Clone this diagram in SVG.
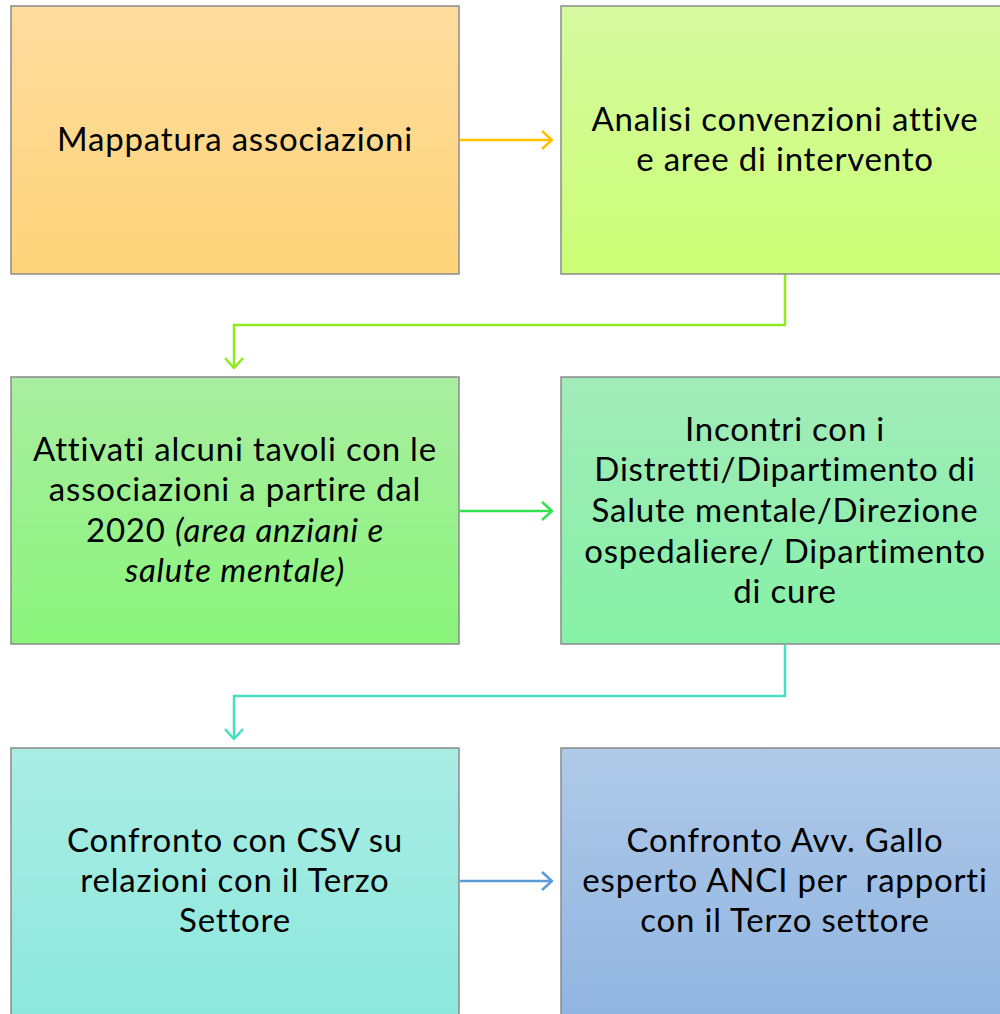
<svg xmlns="http://www.w3.org/2000/svg" width="1000" height="1014" viewBox="0 0 1000 1014">
<style>
.box{stroke:#8a8a8a;stroke-width:1.5}
.t{font-family:Lato,"Open Sans","Liberation Sans",sans-serif;font-size:33px;letter-spacing:0.8px;font-variant-ligatures:none;fill:#000;text-anchor:middle}
.c{fill:none;stroke-width:2.5}
</style>
<defs>
<linearGradient id="g1" x1="0" y1="0" x2="0" y2="1"><stop offset="0" stop-color="#FEDC9E"/><stop offset="1" stop-color="#FED479"/></linearGradient>
<linearGradient id="g2" x1="0" y1="0" x2="0" y2="1"><stop offset="0" stop-color="#D6F9A0"/><stop offset="1" stop-color="#CBFE75"/></linearGradient>
<linearGradient id="g3" x1="0" y1="0" x2="0" y2="1"><stop offset="0" stop-color="#A9EDA1"/><stop offset="1" stop-color="#8AF57B"/></linearGradient>
<linearGradient id="g4" x1="0" y1="0" x2="0" y2="1"><stop offset="0" stop-color="#A2EBB9"/><stop offset="1" stop-color="#86F1A6"/></linearGradient>
<linearGradient id="g5" x1="0" y1="0" x2="0" y2="1"><stop offset="0" stop-color="#AAEDE5"/><stop offset="1" stop-color="#8BE7DB"/></linearGradient>
<linearGradient id="g6" x1="0" y1="0" x2="0" y2="1"><stop offset="0" stop-color="#AFC9E8"/><stop offset="1" stop-color="#8FB4E0"/></linearGradient>
<marker id="m1" viewBox="0 0 12 20" refX="11" refY="10" markerWidth="12" markerHeight="20" markerUnits="userSpaceOnUse" orient="auto"><path d="M1,1 L11,10 L1,19" fill="none" stroke="#FFC000" stroke-width="2.5"/></marker>
<marker id="m2" viewBox="0 0 12 20" refX="11" refY="10" markerWidth="12" markerHeight="20" markerUnits="userSpaceOnUse" orient="auto"><path d="M1,1 L11,10 L1,19" fill="none" stroke="#8DEB1E" stroke-width="2.5"/></marker>
<marker id="m3" viewBox="0 0 12 20" refX="11" refY="10" markerWidth="12" markerHeight="20" markerUnits="userSpaceOnUse" orient="auto"><path d="M1,1 L11,10 L1,19" fill="none" stroke="#2EE34E" stroke-width="2.5"/></marker>
<marker id="m4" viewBox="0 0 12 20" refX="11" refY="10" markerWidth="12" markerHeight="20" markerUnits="userSpaceOnUse" orient="auto"><path d="M1,1 L11,10 L1,19" fill="none" stroke="#48DEC2" stroke-width="2.5"/></marker>
<marker id="m5" viewBox="0 0 12 20" refX="11" refY="10" markerWidth="12" markerHeight="20" markerUnits="userSpaceOnUse" orient="auto"><path d="M1,1 L11,10 L1,19" fill="none" stroke="#5B9BD5" stroke-width="2.5"/></marker>
</defs>
<rect width="1000" height="1014" fill="#fff"/>
<g id="connectors">
<path class="c" stroke="#FFC000" d="M460,140 H552" marker-end="url(#m1)"/>
<path class="c" stroke="#8DEB1E" d="M785,274 V325 H234 V368" marker-end="url(#m2)"/>
<path class="c" stroke="#2EE34E" d="M460,511 H552" marker-end="url(#m3)"/>
<path class="c" stroke="#48DEC2" d="M785,645 V696 H234 V739" marker-end="url(#m4)"/>
<path class="c" stroke="#5B9BD5" d="M460,881 H552" marker-end="url(#m5)"/>
</g>
<g id="n1"><rect class="box" x="11" y="6" width="448" height="268" fill="url(#g1)"/>
<text class="t" x="235" y="151">Mappatura associazioni</text></g>
<g id="n2"><rect class="box" x="561" y="6" width="448" height="268" fill="url(#g2)"/>
<text class="t" x="785" y="131">Analisi convenzioni attive</text>
<text class="t" x="785" y="171">e aree di intervento</text></g>
<g id="n3"><rect class="box" x="11" y="377" width="448" height="267" fill="url(#g3)"/>
<text class="t" x="235" y="461">Attivati alcuni tavoli con le</text>
<text class="t" x="235" y="501">associazioni a partire dal</text>
<text class="t" x="235" y="542">2020 <tspan font-style="italic">(area anziani e</tspan></text>
<text class="t" x="235" y="582" font-style="italic">salute mentale)</text></g>
<g id="n4"><rect class="box" x="561" y="377" width="448" height="267" fill="url(#g4)"/>
<text class="t" x="785" y="441">Incontri con i</text>
<text class="t" x="785" y="481">Distretti/Dipartimento di</text>
<text class="t" x="785" y="522">Salute mentale/Direzione</text>
<text class="t" x="785" y="563">ospedaliere/ Dipartimento</text>
<text class="t" x="785" y="603">di cure</text></g>
<g id="n5"><rect class="box" x="11" y="748" width="448" height="280" fill="url(#g5)"/>
<text class="t" x="235" y="852">Confronto con CSV su</text>
<text class="t" x="235" y="892">relazioni con il Terzo</text>
<text class="t" x="235" y="932">Settore</text></g>
<g id="n6"><rect class="box" x="561" y="748" width="448" height="280" fill="url(#g6)"/>
<text class="t" x="785" y="852">Confronto Avv. Gallo</text>
<text class="t" x="785" y="892" xml:space="preserve">esperto ANCI per  rapporti</text>
<text class="t" x="785" y="932">con il Terzo settore</text></g>
</svg>
